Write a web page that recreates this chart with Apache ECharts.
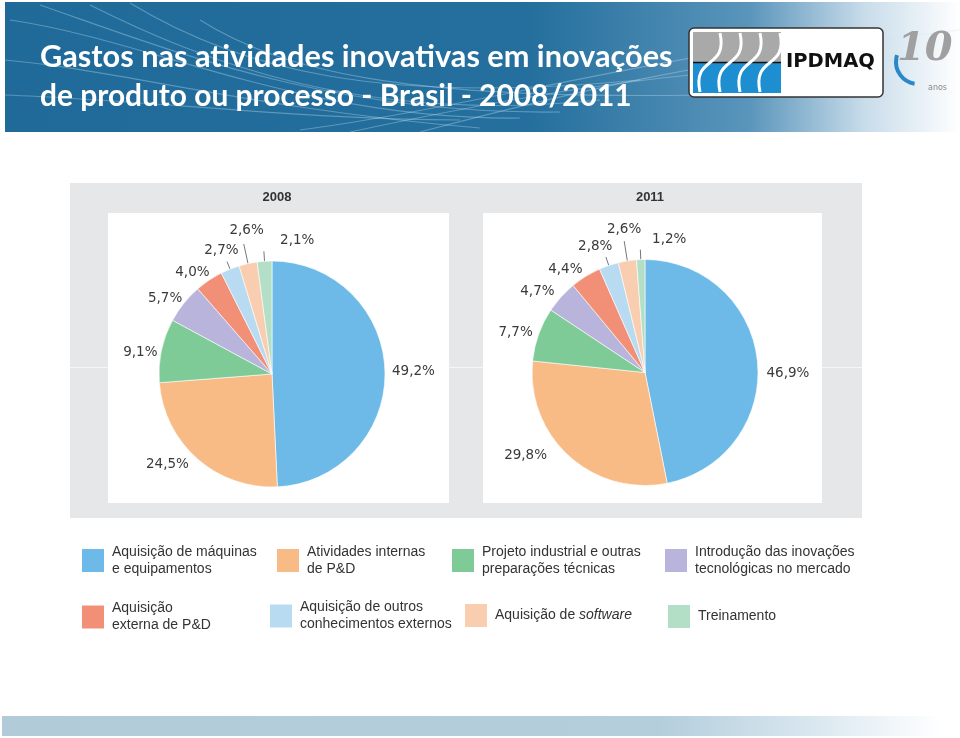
<!DOCTYPE html>
<html><head><meta charset="utf-8">
<script src="https://cdn.jsdelivr.net/npm/echarts@6/dist/echarts.min.js"></script>
<style>html,body{margin:0;padding:0;background:#fff}#c{width:960px;height:738px}</style>
</head><body><div id="c"></div>
<script>
const categories = [
  'Aquisição de máquinas e equipamentos',
  'Atividades internas de P&D',
  'Projeto industrial e outras preparações técnicas',
  'Introdução das inovações tecnológicas no mercado',
  'Aquisição externa de P&D',
  'Aquisição de outros conhecimentos externos',
  'Aquisição de software',
  'Treinamento'
];
const legendLabels = [
  'Aquisição de máquinas\ne equipamentos',
  'Atividades internas\nde P&D',
  'Projeto industrial e outras\npreparações técnicas',
  'Introdução das inovações\ntecnológicas no mercado',
  'Aquisição\nexterna de P&D',
  'Aquisição de outros\nconhecimentos externos',
  '{n|Aquisição de }{i|software}',
  'Treinamento'
];
const colors = ['#6db9e7','#f8bb86','#7ecb98','#b9b4db','#f28f77','#b8dbf2','#f9cdb0','#b3dfc6'];
const years = ['2008','2011'];
const values2008 = [49.2, 24.5, 9.1, 5.7, 4.0, 2.7, 2.6, 2.1];
const values2011 = [46.9, 29.8, 7.7, 4.7, 4.4, 2.8, 2.6, 1.2];
const title = ['Gastos nas atividades inovativas em inovações', 'de produto ou processo - Brasil - 2008/2011'];

// per-slice label styling: [lineLen1, lineLen2, distance, upShift, showLine]
const labelStyle2008 = [
  [0,4,3,0,false],[8,0,3,0,false],[1,0,3,-2,false],[7,0,-4,1,false],
  [8,0,-5,1,false],[8,0,-11.5,11.5,true],[20,0,-20,14,true],[10,0,-50.5,11,true]
];
const labelStyle2011 = [
  [0,5,4,-12.5,false],[0,19,3,1,false],[3,0,3,1,false],[6,0,2,1,false],
  [8,0,-1,0,false],[9,0,-6.5,10,true],[20,0,-17,12,true],[10,0,-46,10.5,true]
];

const chart = echarts.init(document.getElementById('c'), null, {renderer:'canvas'});

function fmt(v){ return v.toFixed(1).replace('.', ',') + '%'; }

function pieData(vals, st){
  return vals.map((v,i)=>({
    name: categories[i], value: v,
    itemStyle:{color: colors[i]},
    label:{distanceToLabelLine: st[i][2]},
    labelLine:{show: st[i][4], length: st[i][0], length2: st[i][1]}
  }));
}

function pieSeries(vals, st, center){
  const rich = {t:{fontFamily:'DejaVu Sans', fontSize:13.5, lineHeight:16, color:'#3a3a3a'}};
  st.forEach((s,i)=>{ rich['g'+i] = {fontSize:1, lineHeight: Math.max(1, 2*Math.abs(s[3]))}; });
  return {
    type:'pie', center: center, radius: 113, startAngle: 90, clockwise: true,
    avoidLabelOverlap: false,
    labelLayout:{hideOverlap:false},
    data: pieData(vals, st),
    itemStyle:{borderColor:'#ffffff', borderWidth:0.6},
    label:{show:true, position:'outside',
      formatter: p => {
        const s = st[p.dataIndex][3];
        const t = '{t|' + fmt(p.value) + '}';
        if (s > 0) return t + '\n{g' + p.dataIndex + '| }';
        if (s < 0) return '{g' + p.dataIndex + '| }\n' + t;
        return t;
      },
      rich: rich,
      fontFamily:'DejaVu Sans', fontSize:13.5, color:'#3a3a3a'},
    labelLine:{lineStyle:{color:'#777', width:1}},
    emphasis:{disabled:true}, silent:true, animation:false
  };
}

const legendPos = [
  [82,543.5],[277,543.5],[452,543.5],[665,543.5],
  [82,600],[270,599],[465,604],[668,605]
];
const legends = categories.map((c,i)=>({
  data:[c], left: legendPos[i][0], top: legendPos[i][1], padding:0,
  orient:'horizontal', icon:'rect', itemWidth:22, itemHeight:23, selectedMode:false,
  itemStyle:{borderWidth:0},
  formatter: () => legendLabels[i],
  textStyle:{fontFamily:'Liberation Sans', fontSize:14, lineHeight:17, color:'#333', padding:[0,0,0,3],
    rich:{n:{fontFamily:'Liberation Sans', fontSize:14, color:'#333'}, i:{fontFamily:'Liberation Sans', fontSize:14, fontStyle:'italic', color:'#333'}}}
}));

const curves = [];
const curveDefs = [
  [[10,20],[150,40],[300,120],[520,118]],
  [[40,5],[170,50],[330,115],[560,112]],
  [[90,5],[200,60],[360,125],[600,100]],
  [[5,60],[120,70],[260,110],[480,128]],
  [[5,95],[150,100],[300,120],[460,120]],
  [[130,3],[240,70],[380,105],[640,80]],
  [[300,130],[450,110],[600,70],[800,40]],
  [[350,132],[500,100],[650,70],[900,60]],
  [[420,132],[560,95],[700,60],[960,30]],
  [[200,20],[280,70],[400,100],[700,95]]
];
curveDefs.forEach(d=>curves.push({type:'bezierCurve', silent:true, z:1,
  shape:{x1:d[0][0],y1:d[0][1],cpx1:d[1][0],cpy1:d[1][1],cpx2:d[2][0],cpy2:d[2][1],x2:d[3][0],y2:d[3][1]},
  style:{stroke:'rgba(200,230,250,0.35)', lineWidth:1.2, fill:null}}));

const graphic = [
  {type:'rect', z:0, silent:true, shape:{x:5,y:2,width:955,height:130},
   style:{fill:new echarts.graphic.LinearGradient(0,0,1,0,[
     {offset:0,color:'#1f6a98'},{offset:0.55,color:'#246f9d'},{offset:0.78,color:'#5a95bb'},{offset:0.9,color:'#c8dcea'},{offset:1,color:'#ffffff'}])}},
  ...curves,
  {type:'text', z:5, silent:true, left:40, top:42, style:{text:title[0], fill:'#ffffff', font:'bold 30.7px Lato'}},
  {type:'text', z:5, silent:true, left:40, top:81.5, style:{text:title[1], fill:'#ffffff', font:'bold 29.9px Lato'}},
  {type:'rect', z:5, silent:true, shape:{x:689,y:28,width:194,height:69,r:5}, style:{fill:'#ffffff', stroke:'#333', lineWidth:1.5}},
  {type:'rect', z:6, silent:true, shape:{x:693,y:32,width:88,height:30}, style:{fill:'#a9a9a9'}},
  {type:'rect', z:6, silent:true, shape:{x:693,y:63,width:88,height:30}, style:{fill:'#1d8fd1'}},
  {type:'line', z:7, silent:true, shape:{x1:693,y1:62.5,x2:781,y2:62.5}, style:{stroke:'#111', lineWidth:1.5}},
  ...[0,1,2,3].map(k=>({type:'bezierCurve', z:7, silent:true,
     shape:{x1:700+k*20,y1:92,cpx1:692+k*20,cpy1:55,cpx2:728+k*20,cpy2:70,x2:720+k*20,y2:33},
     style:{stroke:'#ffffff', lineWidth:3, fill:null}})),
  {type:'text', z:7, silent:true, left:786, top:52, style:{text:'IPDMAQ', fill:'#111', font:'bold 19.5px "DejaVu Sans"'}},
  {type:'text', z:6, silent:true, left:897, top:30, style:{text:'10', fill:'#a0a0a0', font:'italic bold 40px "DejaVu Serif"'}},
  {type:'text', z:6, silent:true, left:928, top:84, style:{text:'anos', fill:'#888', font:'8px "DejaVu Sans"'}},
  {type:'arc', z:6, silent:true, shape:{cx:918,cy:62,r:22,startAngle:Math.PI*0.55,endAngle:Math.PI*1.1}, style:{stroke:'#2a88c8', lineWidth:4, fill:null}},
  {type:'rect', z:0, silent:true, shape:{x:70,y:183,width:792,height:335}, style:{fill:'#e6e7e8'}},
  {type:'line', z:0, silent:true, shape:{x1:70,y1:367.5,x2:862,y2:367.5}, style:{stroke:'#f6f6f6', lineWidth:1}},
  {type:'rect', z:1, silent:true, shape:{x:108,y:213,width:341,height:290}, style:{fill:'#ffffff'}},
  {type:'rect', z:1, silent:true, shape:{x:483,y:213,width:339,height:290}, style:{fill:'#ffffff'}},
  {type:'text', z:2, silent:true, x:277, y:197, style:{text:years[0], fill:'#333', font:'bold 13px "Liberation Sans"', align:'center', verticalAlign:'middle'}},
  {type:'text', z:2, silent:true, x:650, y:197, style:{text:years[1], fill:'#333', font:'bold 13px "Liberation Sans"', align:'center', verticalAlign:'middle'}},
  {type:'rect', z:0, silent:true, shape:{x:2,y:716,width:940,height:20},
   style:{fill:new echarts.graphic.LinearGradient(0,0,1,0,[
     {offset:0,color:'#b2cbd9'},{offset:0.7,color:'#b4cedc'},{offset:0.85,color:'#d6e5ee'},{offset:1,color:'#ffffff'}])}}
];

chart.setOption({
  backgroundColor:'#ffffff',
  animation:false,
  color: colors,
  legend: legends,
  graphic: graphic,
  series:[ pieSeries(values2008, labelStyle2008, [272,374]), pieSeries(values2011, labelStyle2011, [645,372.5]) ]
});
</script></body></html>
